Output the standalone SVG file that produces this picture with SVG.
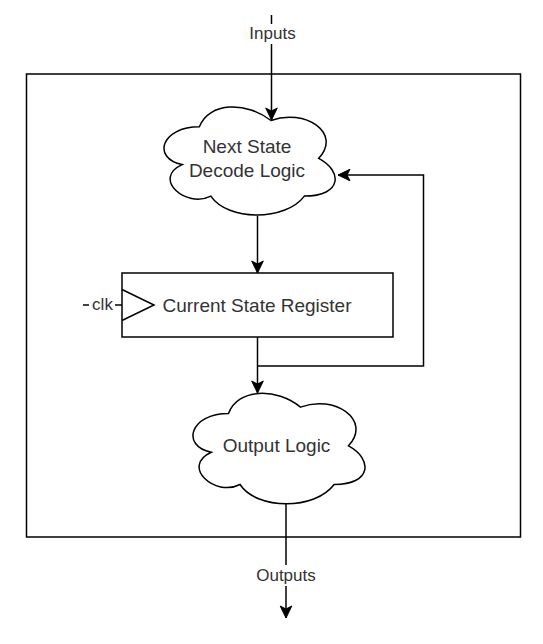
<svg xmlns="http://www.w3.org/2000/svg" width="543" height="644" viewBox="0 0 543 644">
<style>
.ln{fill:none;stroke:#000;stroke-width:1.5}
.shape{fill:#fff;stroke:#000;stroke-width:1.5}
.t{font-family:"Liberation Sans",Arial,sans-serif;font-size:19px;fill:#333;text-anchor:middle}
.lbl{font-family:"Liberation Sans",Arial,sans-serif;font-size:17px;fill:#333;text-anchor:middle}
</style>
<defs>
<marker id="arr" markerUnits="userSpaceOnUse" markerWidth="16" markerHeight="16" viewBox="-14 -8 16 16" refX="0" refY="0" orient="auto">
<path d="M0,0 L-12,-5.8 L-9,0 L-12,5.8 Z" fill="#000" stroke="#000" stroke-width="1"/>
</marker>
</defs>
<rect id="container" x="26.5" y="74" width="494" height="463" fill="#fff" stroke="#000" stroke-width="1.5"/>
<g id="next-state">
<path class="shape" d="M199.35 126.8 C161.15 126.8 151.6 158.3 182.16 164.6 C151.6 178.46 185.98 208.7 210.81 196.1 C228.0 221.3 285.3 221.3 304.4 196.1 C342.6 196.1 342.6 170.9 318.7 158.3 C342.6 133.1 304.4 107.9 271.0 120.5 C247.1 101.6 208.9 101.6 199.35 126.8 Z"/>
<text class="t" x="247" y="153">Next State</text>
<text class="t" x="247" y="177">Decode Logic</text>
</g>
<g id="register">
<rect class="shape" x="122" y="273" width="271" height="64"/>
<path class="ln" d="M122 289.5 L154 305 L122 320.5"/>
<text class="t" x="257" y="311.5">Current State Register</text>
</g>
<g id="output-logic">
<path class="shape" d="M228.5 413.55 C190.1 413.55 180.5 445.8 211.22 452.25 C180.5 466.44 215.06 497.4 240.02 484.5 C257.3 510.3 314.9 510.3 334.1 484.5 C372.5 484.5 372.5 458.7 348.5 445.8 C372.5 420.0 334.1 394.2 300.5 407.1 C276.5 387.75 238.1 387.75 228.5 413.55 Z"/>
<text class="t" x="276.5" y="451.5">Output Logic</text>
</g>
<g id="connectors">
<path class="ln" d="M271.5 15 L271.5 120" marker-end="url(#arr)"/>
<rect x="246" y="24" width="52" height="20" fill="#fff"/>
<text class="lbl" x="272.5" y="39">Inputs</text>
<path class="ln" d="M257.5 216 L257.5 273" marker-end="url(#arr)"/>
<path class="ln" d="M83 305 L122 305"/>
<rect x="89" y="296" width="26" height="18" fill="#fff"/>
<text class="lbl" x="102.5" y="310">clk</text>
<path class="ln" d="M257.5 337 L257.5 393" marker-end="url(#arr)"/>
<path class="ln" d="M257.5 366 L423.5 366 L423.5 175 L338 175" marker-end="url(#arr)"/>
<path class="ln" d="M286 504 L286 618" marker-end="url(#arr)"/>
<rect x="256" y="565" width="60" height="21" fill="#fff"/>
<text class="lbl" x="286" y="581">Outputs</text>
</g>
</svg>
